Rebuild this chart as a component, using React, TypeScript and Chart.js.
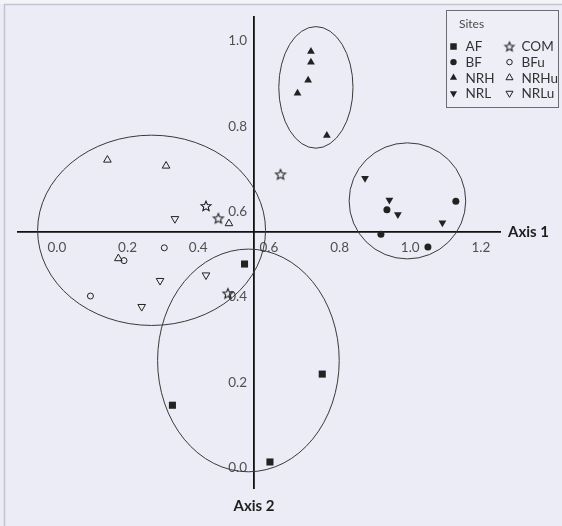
import React, { useEffect, useRef } from "react";
import { Chart, registerables } from "chart.js";
import { drawPoint } from "chart.js/helpers";

Chart.register(...registerables);

// ---- axes ----
const xTickValues = [0, 0.2, 0.4, 0.6, 0.8, 1.0, 1.2];
const yTickValues = [0, 0.2, 0.4, 0.6, 0.8, 1.0];
const xMin = -0.11;
const xMax = 1.254;
const yMin = -0.048;
const yMax = 1.056;
const axis1At = 0.552; // Axis 1 (horizontal) lies at this Axis-2 value
const axis2At = 0.558; // Axis 2 (vertical) lies at this Axis-1 value
const axis1Title = "Axis 1";
const axis2Title = "Axis 2";
const legendTitle = "Sites";

// ---- sites ----
const siteNames = ["AF", "BF", "NRH", "NRL", "COM", "BFu", "NRHu", "NRLu"];

const afX = [0.531, 0.751, 0.327, 0.603];
const afY = [0.477, 0.219, 0.146, 0.013];

const bfX = [0.934, 1.129, 0.917, 1.05];
const bfY = [0.604, 0.624, 0.547, 0.517];

const nrhX = [0.719, 0.719, 0.711, 0.681, 0.764];
const nrhY = [0.975, 0.95, 0.908, 0.877, 0.778];

const nrlX = [0.872, 0.941, 0.965, 1.091];
const nrlY = [0.678, 0.627, 0.593, 0.574];

const comX = [0.422, 0.457, 0.484, 0.633];
const comY = [0.613, 0.584, 0.408, 0.687];

const bfuX = [0.304, 0.19, 0.095];
const bfuY = [0.515, 0.485, 0.402];

const nrhuX = [0.143, 0.309, 0.487, 0.174];
const nrhuY = [0.721, 0.707, 0.572, 0.49];

const nrluX = [0.334, 0.292, 0.422, 0.24];
const nrluY = [0.583, 0.438, 0.451, 0.377];

// ---- group ellipses (centre and half-axes, in axis units) ----
const ellipseCx = [0.268, 0.733, 0.992, 0.542];
const ellipseCy = [0.556, 0.891, 0.625, 0.251];
const ellipseRx = [0.3225, 0.105, 0.165, 0.257];
const ellipseRy = [0.223, 0.1425, 0.136, 0.261];

const siteX = [afX, bfX, nrhX, nrlX, comX, bfuX, nrhuX, nrluX];
const siteY = [afY, bfY, nrhY, nrlY, comY, bfuY, nrhuY, nrluY];

const INK = "#222222";
const FONT = "Lato, 'Open Sans', sans-serif";

function makeStar(R: number): HTMLCanvasElement {
  const c = document.createElement("canvas");
  c.width = 14;
  c.height = 14;
  const g = c.getContext("2d")!;
  const cx = 7, cy = 7.4, r = R * 0.45;
  g.beginPath();
  for (let i = 0; i < 10; i++) {
    const a = -Math.PI / 2 + (i * Math.PI) / 5;
    const rad = i % 2 === 0 ? R : r;
    const px = cx + rad * Math.cos(a);
    const py = cy + rad * Math.sin(a);
    if (i === 0) g.moveTo(px, py);
    else g.lineTo(px, py);
  }
  g.closePath();
  g.strokeStyle = "#1a1a1a";
  g.lineWidth = 1.05;
  g.stroke();
  return c;
}

function styleFor(i: number, star: HTMLCanvasElement) {
  const filled = i < 4;
  const fill = filled ? INK : "rgba(0,0,0,0)";
  switch (siteNames[i]) {
    case "AF":
      return { pointStyle: "rect", radius: 5, rotation: 0, fill, border: 0 };
    case "BF":
      return { pointStyle: "circle", radius: 3.5, rotation: 0, fill, border: 0 };
    case "NRH":
      return { pointStyle: "triangle", radius: 4.5, rotation: 0, fill, border: 0 };
    case "NRL":
      return { pointStyle: "triangle", radius: 4.5, rotation: 180, fill, border: 0 };
    case "COM":
      return { pointStyle: star, radius: 6, rotation: 0, fill, border: 0 };
    case "BFu":
      return { pointStyle: "circle", radius: 3, rotation: 0, fill, border: 1 };
    case "NRHu":
      return { pointStyle: "triangle", radius: 4.4, rotation: 0, fill, border: 1 };
    default:
      return { pointStyle: "triangle", radius: 4.4, rotation: 180, fill, border: 1 };
  }
}

const framePlugin = {
  id: "frameAndTicks",
  beforeDraw(chart: any) {
    const ctx = chart.ctx;
    ctx.save();
    ctx.fillStyle = "#ebecf5";
    ctx.fillRect(0, 0, chart.width, chart.height);
    ctx.fillStyle = "#f3f3f8";
    ctx.fillRect(0, 0, chart.width, 4);
    ctx.strokeStyle = "#c3c4cc";
    ctx.lineWidth = 1.5;
    ctx.beginPath();
    ctx.moveTo(4.5, chart.height);
    ctx.lineTo(4.5, 4.5);
    ctx.lineTo(chart.width, 4.5);
    ctx.stroke();
    ctx.restore();
    // keep the vertical axis tick labels a little off the axis line
    const ys = chart.scales.y;
    try {
      const items = ys._computeLabelItems(chart.chartArea);
      items.forEach((it: any) => {
        it.options.translation[0] -= 7;
      });
      ys._labelItems = items;
    } catch (e) {
      /* ignore */
    }
  },
  beforeDatasetsDraw(chart: any) {
    const ctx = chart.ctx;
    const xs = chart.scales.x;
    const ys = chart.scales.y;
    ctx.save();
    ctx.strokeStyle = "#3a3a3a";
    ctx.lineWidth = 1;
    for (let i = 0; i < ellipseCx.length; i++) {
      const cx = xs.getPixelForValue(ellipseCx[i]);
      const cy = ys.getPixelForValue(ellipseCy[i]);
      const rx = Math.abs(xs.getPixelForValue(ellipseCx[i] + ellipseRx[i]) - cx);
      const ry = Math.abs(ys.getPixelForValue(ellipseCy[i] + ellipseRy[i]) - cy);
      ctx.beginPath();
      ctx.ellipse(cx, cy, rx, ry, 0, 0, Math.PI * 2);
      ctx.stroke();
    }
    ctx.restore();
  },
  afterDraw(chart: any) {
    const ctx = chart.ctx;
    const xs = chart.scales.x;
    const ys = chart.scales.y;
    const area = chart.chartArea;
    ctx.save();
    ctx.fillStyle = "#1e1e1e";
    ctx.font = `bold 15px ${FONT}`;
    ctx.textBaseline = "middle";
    ctx.textAlign = "left";
    ctx.fillText(axis1Title, area.right + 8, ys.getPixelForValue(axis1At));
    ctx.textAlign = "center";
    ctx.fillText(axis2Title, xs.getPixelForValue(axis2At), area.bottom + 18);

    // legend
    const legendStar = (chart as any).$legendStar;
    ctx.strokeStyle = "#6c6c72";
    ctx.lineWidth = 1;
    ctx.fillStyle = "#edeef6";
    ctx.fillRect(446, 10, 113, 98);
    ctx.strokeRect(446.5, 10.5, 112, 97);
    ctx.fillStyle = "#4a4a4a";
    ctx.font = `12px ${FONT}`;
    ctx.textAlign = "left";
    ctx.fillText(legendTitle, 459, 24.5);
    ctx.font = `13.5px ${FONT}`;
    for (let i = 0; i < siteNames.length; i++) {
      const col = i < 4 ? 0 : 1;
      const row = i % 4;
      const mx = col === 0 ? 453.5 : 509.5;
      const my = 46.5 + row * 15.6;
      const s = styleFor(i, legendStar);
      ctx.save();
      ctx.fillStyle = s.fill;
      ctx.strokeStyle = INK;
      ctx.lineWidth = s.border;
      drawPoint(ctx, {
        pointStyle: s.pointStyle as any,
        rotation: s.rotation,
        radius: s.radius * 0.92,
        borderWidth: s.border,
      } as any, mx, my);
      ctx.restore();
      ctx.fillStyle = "#333";
      ctx.fillText(siteNames[i], mx + 12, my + 0.5);
    }
    ctx.restore();
  },
};

export default function App() {
  const ref = useRef<HTMLCanvasElement>(null);

  useEffect(() => {
    if (!ref.current) return;
    const star = makeStar(5.3);
    const legendStar = makeStar(4.8);
    const datasets = siteNames.map((name, i) => {
      const s = styleFor(i, star);
      return {
        label: name,
        data: siteX[i].map((x, k) => ({ x, y: siteY[i][k] })),
        pointStyle: s.pointStyle as any,
        pointRadius: s.radius,
        pointRotation: s.rotation,
        pointBackgroundColor: s.fill,
        pointBorderColor: INK,
        pointBorderWidth: s.border,
        showLine: false,
      };
    });

    const tickFont = { family: FONT, size: 13.5 };
    const chart = new Chart(ref.current, {
      type: "scatter",
      data: { datasets },
      plugins: [framePlugin],
      options: {
        animation: false,
        responsive: false,
        devicePixelRatio: 1,
        layout: { padding: { left: 18, right: 62, top: 17, bottom: 38 } },
        plugins: {
          legend: { display: false },
          title: { display: false },
          tooltip: { enabled: false },
        },
        scales: {
          x: {
            type: "linear",
            min: xMin,
            max: xMax,
            position: { y: axis1At } as any,
            afterBuildTicks: (scale: any) => {
              scale.ticks = xTickValues.map((v) => ({ value: v }));
            },
            ticks: {
              autoSkip: false,
              maxRotation: 0,
              padding: 8,
              color: "#505050",
              font: tickFont,
              callback: (v: any) => Number(v).toFixed(1),
            },
            grid: { display: false, drawTicks: false },
            border: { display: true, color: "#111", width: 1.8 },
          },
          y: {
            type: "linear",
            min: yMin,
            max: yMax,
            position: { x: axis2At } as any,
            afterBuildTicks: (scale: any) => {
              scale.ticks = yTickValues.map((v) => ({ value: v }));
            },
            ticks: {
              autoSkip: false,
              color: "#505050",
              font: tickFont,
              callback: (v: any) => Number(v).toFixed(1),
            },
            grid: { display: false, drawTicks: false },
            border: { display: true, color: "#111", width: 1.8 },
          },
        },
      } as any,
    });
    (chart as any).$legendStar = legendStar;
    chart.draw();
    return () => chart.destroy();
  }, []);

  return (
    <div style={{ position: "fixed", left: 0, top: 0, width: 562, height: 526, background: "#ebecf5" }}>
      <canvas ref={ref} width={562} height={526} style={{ display: "block", width: 562, height: 526 }} />
    </div>
  );
}
